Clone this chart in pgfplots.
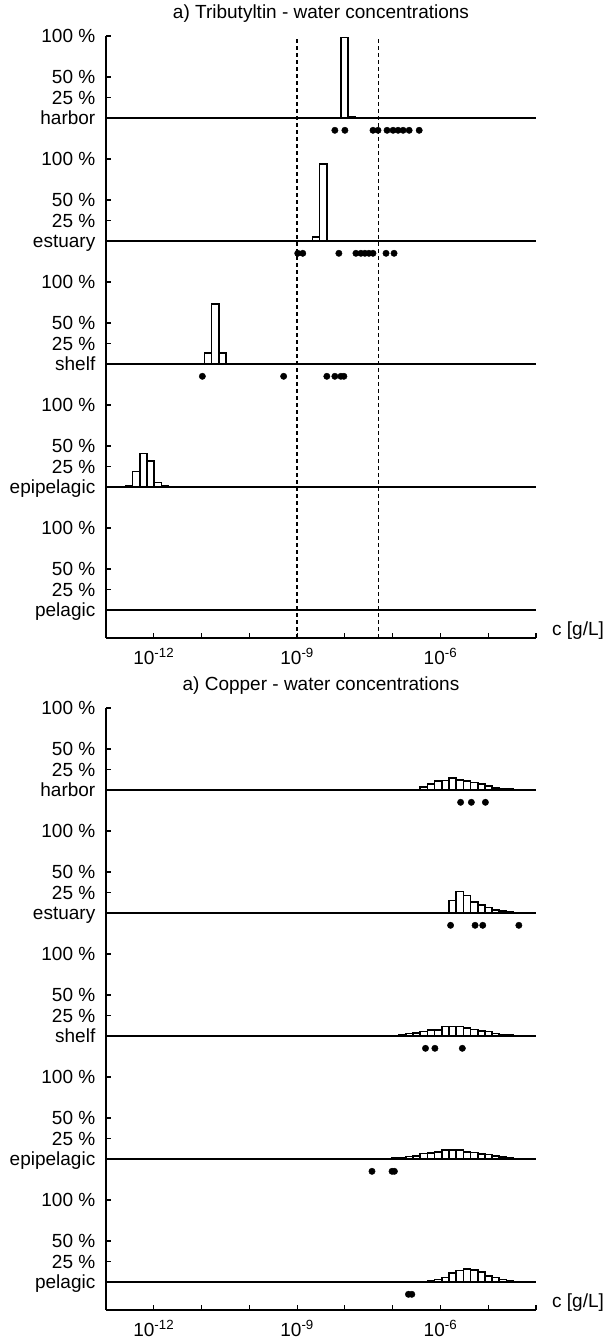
\documentclass[border=0pt]{standalone}
\usepackage{fontspec}
\setmainfont{Liberation Sans}
\usepackage{pgfplots}
\pgfplotsset{compat=1.18}

\newcommand{\lbl}{\fontsize{19bp}{22bp}\selectfont}

\pgfplotsset{
  mainax/.style={
    anchor=north west, scale only axis, width=430bp, height=601.9bp,
    xmin=-13, xmax=-4, ymin=-0.34, ymax=7,
    axis x line*=bottom, axis y line*=left,
    axis line style={line width=1.8bp, black},
    every tick/.style={black, line width=1.2bp},
    major tick length=4.5bp,
    tick align=inside,
    xtick={-13,-12,-11,-10,-9,-8,-7,-6,-5,-4},
    xticklabels={{},{10\textsuperscript{-12}},{},{},{10\textsuperscript{-9}},{},{},{10\textsuperscript{-6}},{},{}},
    ytick={0,0.25,0.5,1,1.5,1.75,2,2.5,3,3.25,3.5,4,4.5,4.75,5,5.5,6,6.25,6.5,7},
    yticklabels={pelagic,{25 \%},{50 \%},{100 \%},epipelagic,{25 \%},{50 \%},{100 \%},shelf,{25 \%},{50 \%},{100 \%},estuary,{25 \%},{50 \%},{100 \%},harbor,{25 \%},{50 \%},{100 \%}},
    yticklabel style={font=\lbl, anchor=base east, inner sep=0pt, xshift=-10.5bp, yshift=-6.7bp},
    xticklabel style={font=\lbl, anchor=base, inner sep=0pt, yshift=-27bp},
    xlabel={c [g/L]},
    xlabel style={font=\lbl, at={(axis description cs:1,0)}, anchor=base west, inner sep=0pt, xshift=16bp, yshift=2bp},
    title style={font=\lbl, at={(axis description cs:0.5,1)}, anchor=base, inner sep=0pt, yshift=11.5bp},
    clip=false,
  },
  rowax/.style={anchor=south west, scale only axis, width=430bp, height=82bp,
    xmin=-13, xmax=-4, ymin=0, ymax=100, hide axis, clip=false},
  bars/.style={ybar interval, draw=black, fill=white, line width=1.6bp},
  dots/.style={only marks, mark=*, mark size=3.2bp, black},
  base/.style={black, line width=1.7bp},
  thr/.style={black, line width=1.3bp, dash pattern=on 4bp off 3bp},
}

\begin{document}
\begin{tikzpicture}
\path[use as bounding box] (0bp,0bp) rectangle (606bp,-1342bp);

% ================= Panel 1: Tributyltin =================
\begin{axis}[mainax, at={(106bp,-36bp)}, title={a) Tributyltin - water concentrations}]
  \addplot[base] coordinates {(-13,0) (-4,0)};
  \addplot[base] coordinates {(-13,1.5) (-4,1.5)};
  \addplot[base] coordinates {(-13,3) (-4,3)};
  \addplot[base] coordinates {(-13,4.5) (-4,4.5)};
  \addplot[base] coordinates {(-13,6) (-4,6)};
  \addplot[thr] coordinates {(-9,-0.34) (-9,7)};
  \addplot[thr] coordinates {(-7.3,-0.34) (-7.3,7)};
\end{axis}

% harbor
\begin{axis}[rowax, at={(106bp,-118bp)}]
  \addplot[bars] coordinates {(-8.0795,98) (-7.929,1.2) (-7.7785,0)};
  \addplot[dots] coordinates {(-8.210,-15) (-8.000,-15) (-7.412,-15) (-7.307,-15) (-7.118,-15) (-6.992,-15) (-6.887,-15) (-6.782,-15) (-6.655,-15) (-6.445,-15)};
\end{axis}
% estuary
\begin{axis}[rowax, at={(106bp,-241bp)}]
  \addplot[bars] coordinates {(-8.6815,5) (-8.531,94) (-8.3805,0)};
  \addplot[dots] coordinates {(-8.987,-15) (-8.882,-15) (-8.126,-15) (-7.769,-15) (-7.664,-15) (-7.580,-15) (-7.496,-15) (-7.412,-15) (-7.139,-15) (-6.971,-15)};
\end{axis}
% shelf
\begin{axis}[rowax, at={(106bp,-364bp)}]
  \addplot[bars] coordinates {(-10.939,13.5) (-10.7885,73) (-10.638,13.5) (-10.4875,0)};
  \addplot[dots] coordinates {(-10.983,-15) (-9.282,-15) (-8.378,-15) (-8.210,-15) (-8.084,-15) (-8.021,-15)};
\end{axis}
% epipelagic
\begin{axis}[rowax, at={(106bp,-487bp)}]
  \addplot[bars] coordinates {(-12.5945,1.5) (-12.444,19) (-12.2935,41) (-12.143,32) (-11.9925,5.5) (-11.842,1) (-11.6915,0)};
\end{axis}

% ================= Panel 2: Copper =================
\begin{axis}[mainax, at={(106bp,-708bp)}, title={a) Copper - water concentrations}]
  \addplot[base] coordinates {(-13,0) (-4,0)};
  \addplot[base] coordinates {(-13,1.5) (-4,1.5)};
  \addplot[base] coordinates {(-13,3) (-4,3)};
  \addplot[base] coordinates {(-13,4.5) (-4,4.5)};
  \addplot[base] coordinates {(-13,6) (-4,6)};
\end{axis}

% harbor (bins k=0..15, edge = -6.424 + 0.1505 k)
\begin{axis}[rowax, at={(106bp,-790bp)}]
  \addplot[bars] coordinates {(-6.424,3.5) (-6.2735,7.5) (-6.123,11) (-5.9725,11.5) (-5.822,14.5) (-5.6715,12.5) (-5.521,11) (-5.3705,9) (-5.22,7.5) (-5.0695,5) (-4.919,2.7) (-4.7685,1.8) (-4.618,1) (-4.4675,0.5) (-4.317,0.4) (-4.1665,0.3) (-4.016,0)};
  \addplot[dots] coordinates {(-5.578,-15) (-5.353,-15) (-5.059,-15)};
\end{axis}
% estuary
\begin{axis}[rowax, at={(106bp,-913bp)}]
  \addplot[bars] coordinates {(-5.822,15.5) (-5.6715,26) (-5.521,21.5) (-5.3705,13.5) (-5.22,10) (-5.0695,6.5) (-4.919,3.7) (-4.7685,2.4) (-4.618,1.5) (-4.4675,0.8) (-4.317,0.4) (-4.1665,0.3) (-4.016,0)};
  \addplot[dots] coordinates {(-5.788,-15) (-5.275,-15) (-5.115,-15) (-4.359,-15)};
\end{axis}
% shelf
\begin{axis}[rowax, at={(106bp,-1036bp)}]
  \addplot[bars] coordinates {(-7.327,0.3) (-7.1765,0.4) (-7.026,0.8) (-6.8755,1.6) (-6.725,3.3) (-6.5745,3.7) (-6.424,5.7) (-6.2735,7.3) (-6.123,7.3) (-5.9725,11.4) (-5.822,11.4) (-5.6715,11.4) (-5.521,9.8) (-5.3705,8.1) (-5.22,6.1) (-5.0695,5.3) (-4.919,3.3) (-4.7685,2) (-4.618,1.2) (-4.4675,0.8) (-4.317,0.3) (-4.1665,0.3) (-4.016,0)};
  \addplot[dots] coordinates {(-6.313,-15) (-6.116,-15) (-5.542,-15)};
\end{axis}
% epipelagic
\begin{axis}[rowax, at={(106bp,-1159bp)}]
  \addplot[bars] coordinates {(-7.4775,0.3) (-7.327,0.3) (-7.1765,0.3) (-7.026,1) (-6.8755,2) (-6.725,3) (-6.5745,3.5) (-6.424,6.8) (-6.2735,7.5) (-6.123,8.3) (-5.9725,11) (-5.822,11.3) (-5.6715,11) (-5.521,8.7) (-5.3705,7.9) (-5.22,6.4) (-5.0695,5.3) (-4.919,3.4) (-4.7685,2.2) (-4.618,1.1) (-4.4675,0.5) (-4.317,0.3) (-4.1665,0)};
  \addplot[dots] coordinates {(-7.433,-15) (-7.013,-15) (-6.964,-15)};
\end{axis}
% pelagic
\begin{axis}[rowax, at={(106bp,-1282bp)}]
  \addplot[bars] coordinates {(-6.725,0.3) (-6.5745,0.3) (-6.424,0.3) (-6.2735,1.2) (-6.123,3.3) (-5.9725,5.3) (-5.822,11) (-5.6715,14.2) (-5.521,15.9) (-5.3705,15) (-5.22,12.2) (-5.0695,7.7) (-4.919,5.3) (-4.7685,3.3) (-4.618,1.6) (-4.4675,0.8) (-4.317,0.3) (-4.1665,0.3) (-4.016,0)};
  \addplot[dots] coordinates {(-6.670,-15) (-6.599,-15)};
\end{axis}
\end{tikzpicture}
\end{document}
